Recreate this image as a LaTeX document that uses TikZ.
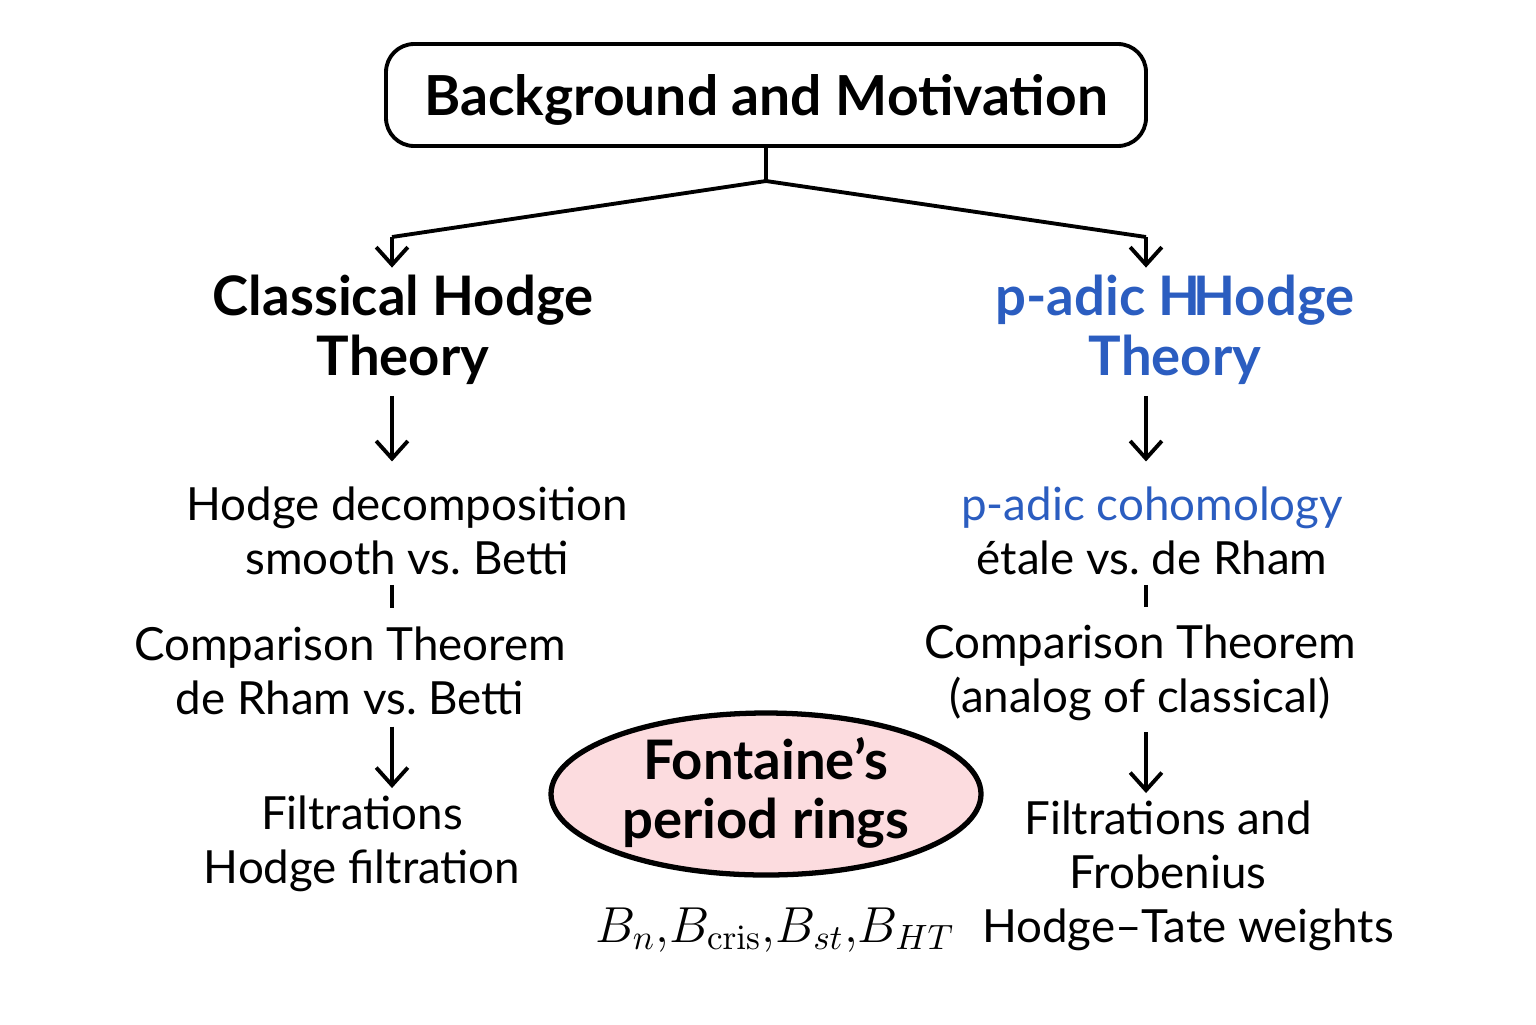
\documentclass[tikz,border=0pt]{standalone}
\usepackage[no-math]{fontspec}
\setmainfont{Lato}
\usepackage{amsmath}
\usetikzlibrary{arrows.meta,shapes.geometric}
\definecolor{padicblue}{HTML}{2B5DC0}
\definecolor{ringpink}{HTML}{FCDCDF}

\begin{document}
\begin{tikzpicture}[
  every node/.style={inner sep=0pt},
  link/.style={line width=1.1pt},
  arr/.style={link,-{Straight Barb[length=5pt,width=9pt]},shorten <=3pt,shorten >=7pt},
  tick/.style={link,shorten <=2.5pt,shorten >=5pt},
  body/.style={font=\fontsize{13}{15.5}\selectfont,align=center},
  head/.style={font=\fontsize{15.5}{17}\selectfont\bfseries,align=center},
]
\useasboundingbox (0,0) rectangle (15.36,-10.24);

% top box and the fork
\node[draw,link,rounded corners=8pt,minimum width=7.6cm,minimum height=1.02cm,text depth=0pt,
      font=\fontsize{15.7}{18}\selectfont\bfseries] (top) at (7.66,-0.95) {Background and Motivation};
\coordinate (fork) at (7.66,-1.81);
\coordinate (lturn) at (3.92,-2.37);
\coordinate (rturn) at (11.46,-2.37);
\coordinate (lx) at (3.92,0);
\coordinate (rx) at (11.46,0);

% classical side
\node[head] (classical) at (4.03,-3.30) {Classical Hodge\\Theory};
\node[body] (hodgedec) at (4.07,-5.31) {Hodge decomposition\\smooth vs.\ Betti};
\node[body] (compleft) at (3.50,-6.71) {Comparison Theorem\\de Rham vs.\ Betti};
\node[body] (filtleft) at (3.62,-8.44) {Filtrations\\Hodge filtration};

% p-adic side
\node[head,text=padicblue] (padic) at (11.75,-3.30) {p-adic H\kern-.13em Hodge\\Theory};
\node[body] (cohom) at (11.52,-5.31) {\textcolor{padicblue}{p-adic cohomology}\\étale vs.\ de Rham};
\node[body] (compright) at (11.40,-6.73) {Comparison Theorem\\(analog of classical)};
\node[body] (filtright) at (11.68,-8.45) {Filtrations and\\Frobenius};
\node[body] (weights) at (11.88,-9.30) {Hodge--Tate weights};

% period rings
\node[ellipse,draw,line width=1.5pt,fill=ringpink,minimum width=4.3cm,minimum height=1.62cm] (ring) at (7.66,-7.94) {};
\node[head] (ringtext) at (7.66,-7.93) {Fontaine’s\\period rings};
\node[font=\fontsize{14}{16}\selectfont] (bvals) at (7.75,-9.30) {$B_n{,}B_{\mathrm{cris}}{,}B_{st}{,}B_{HT}$};

% connectors
\draw[link] (top.south) -- (fork) -- (lturn);
\draw[link] (fork) -- (rturn);
\draw[arr,shorten <=0pt,shorten >=2pt] (lturn) -- (lturn |- classical.north);
\draw[arr,shorten <=0pt,shorten >=2pt] (rturn) -- (rturn |- padic.north);

\draw[arr] (classical.south -| lx) -- (hodgedec.north -| lx);
\draw[tick] (hodgedec.south -| lx) -- (compleft.north -| lx);
\draw[arr,shorten >=2pt] (compleft.south -| lx) -- (filtleft.north -| lx);

\draw[arr] (padic.south -| rx) -- (cohom.north -| rx);
\draw[tick] (cohom.south -| rx) -- (compright.north -| rx);
\draw[arr,shorten >=2pt] (compright.south -| rx) -- (filtright.north -| rx);
\end{tikzpicture}
\end{document}
